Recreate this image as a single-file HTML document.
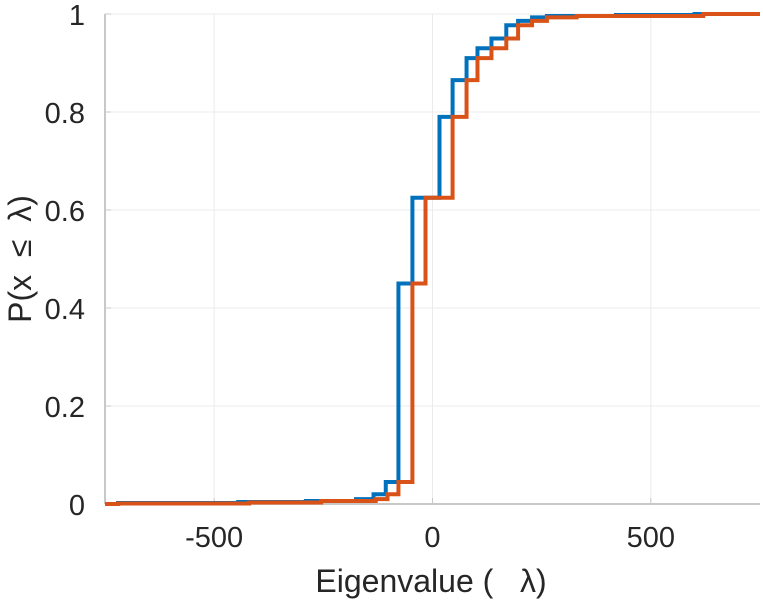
<!DOCTYPE html>
<html><head><meta charset="utf-8"><style>
body{margin:0;background:#fff;}
svg{display:block;font-family:"Liberation Sans",sans-serif;}
</style></head><body>
<svg id="chart" width="763" height="600"></svg>
<script>
const xTicks=[-500,0,500];
const xTickLabels=["-500","0","500"];
const yTicks=[0,0.2,0.4,0.6,0.8,1];
const yTickLabels=["0","0.2","0.4","0.6","0.8","1"];
const blueX=[-750,-720,-445,-290,-175,-135,-107,-78,-46,16,46,78,103,135,169,196,228,262,420,600,750];
const blueY=[0,0.002,0.004,0.006,0.01,0.02,0.045,0.45,0.625,0.79,0.865,0.91,0.93,0.95,0.977,0.986,0.993,0.996,0.998,1,1];
const orangeX=[-750,-720,-420,-255,-130,-103,-78,-46,-16,46,78,103,135,169,196,228,262,330,620,750];
const orangeY=[0,0.001,0.003,0.006,0.01,0.02,0.045,0.45,0.625,0.79,0.865,0.91,0.93,0.95,0.977,0.986,0.993,0.996,1,1];

const NS="http://www.w3.org/2000/svg";
const svg=document.getElementById('chart');
const L=105,R=760,T=14,B=504,xmin=-750,xmax=750;
const sx=v=>L+(v-xmin)/(xmax-xmin)*(R-L);
const sy=v=>B-v*(B-T);
function mk(tag,attrs){const e=document.createElementNS(NS,tag);for(const k in attrs)e.setAttribute(k,attrs[k]);svg.appendChild(e);return e;}

xTicks.forEach((t,i)=>{
  const g=mk('line',{x1:sx(t),x2:sx(t),y1:T,y2:B,stroke:'#ebebeb','stroke-width':1});
  
  
  const tk=mk('line',{x1:sx(t),x2:sx(t),y1:B,y2:B-6,stroke:'#c8c8c8','stroke-width':1});
  
  
  const tx=mk('text',{x:sx(t),y:B+43,'text-anchor':'middle','font-size':29,fill:'#262626'});
  tx.textContent=xTickLabels[i];
  
  
});
yTicks.forEach((t,i)=>{
  const g=mk('line',{x1:L,x2:R,y1:sy(t),y2:sy(t),stroke:'#ebebeb','stroke-width':1});
  
  
  const tk=mk('line',{x1:L,x2:L+6,y1:sy(t),y2:sy(t),stroke:'#c8c8c8','stroke-width':1});
  
  
  const tx=mk('text',{x:L-20,y:sy(t)+11,'text-anchor':'end','font-size':29,fill:'#262626'});
  tx.textContent=yTickLabels[i];
  
  
});
const ax1=mk('line',{x1:L,x2:L,y1:T,y2:B,stroke:'#c8c8c8','stroke-width':2});


const ax2=mk('line',{x1:L,x2:R,y1:B,y2:B,stroke:'#c8c8c8','stroke-width':2});



function stairs(xs,ys,color,name){
  let d='M'+sx(xs[0])+' '+sy(ys[0]);
  for(let i=1;i<xs.length;i++){d+=' H'+sx(xs[i])+' V'+sy(ys[i]);}
  const p=mk('path',{d:d,fill:'none',stroke:color,'stroke-width':4,'stroke-linejoin':'miter'});
  
  
}
stairs(blueX,blueY,'#0072BD','series-blue-cdf');
stairs(orangeX,orangeY,'#D95319','series-orange-cdf');

const xl=mk('text',{x:431,y:592,'text-anchor':'middle','font-size':32,fill:'#262626'});
xl.textContent='Eigenvalue (\u00a0\u00a0\u00a0λ)';


const yl=mk('text',{x:0,y:0,'text-anchor':'middle','font-size':32,fill:'#262626',transform:'translate(31,259) rotate(-90)'});
yl.textContent='P(x\u00a0\u00a0≤\u00a0\u00a0λ)';


</script>
</body></html>
